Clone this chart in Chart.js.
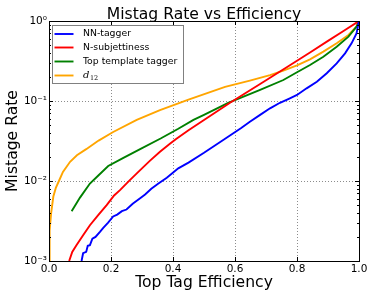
<!DOCTYPE html>
<html><head><meta charset="utf-8">
<script src="https://cdn.jsdelivr.net/npm/chart.js@4/dist/chart.umd.min.js"></script>
<style>html,body{margin:0;padding:0;background:#fff;}#wrap{width:374px;height:298px;}</style>
</head><body><div id="wrap"><canvas id="c" width="374" height="298"></canvas></div>
<script>
const chartTitle = 'Mistag Rate vs Efficiency';
const xTitle = 'Top Tag Efficiency';
const yTitle = 'Mistage Rate';
const xTickValues = [0, 0.2, 0.4, 0.6, 0.8, 1.0];
const yTickValues = [0.001, 0.01, 0.1, 1];
const yTickLabels = ['10\u207B\u00B3', '10\u207B\u00B2', '10\u207B\u00B9', '10\u2070'];
const seriesNames = ['NN-tagger', 'N-subjettiness', 'Top template tagger', 'd12'];
const seriesColors = ['#0000ff', '#ff0000', '#008000', '#ffa500'];

const nnEff    = [0.105, 0.11, 0.12, 0.125, 0.132, 0.14, 0.15, 0.165, 0.175, 0.19, 0.207, 0.22, 0.235, 0.25, 0.27, 0.294, 0.31, 0.33, 0.353, 0.38, 0.417, 0.45, 0.5, 0.562, 0.62, 0.648, 0.681, 0.713, 0.745, 0.777, 0.8, 0.831, 0.864, 0.896, 0.928, 0.955, 0.976, 0.992, 1.0];
const nnMistag = [0.001, 0.00125, 0.0013, 0.00155, 0.00158, 0.0019, 0.002, 0.00233, 0.0026, 0.003, 0.0036, 0.0038, 0.0042, 0.0044, 0.0052, 0.0061, 0.0068, 0.0080, 0.0093, 0.011, 0.0144, 0.017, 0.0225, 0.0326, 0.046, 0.055, 0.067, 0.081, 0.095, 0.108, 0.119, 0.144, 0.174, 0.222, 0.296, 0.394, 0.526, 0.70, 1.0];

const nsubEff    = [0.065, 0.075, 0.089, 0.11, 0.132, 0.16, 0.186, 0.21, 0.229, 0.26, 0.294, 0.326, 0.358, 0.39, 0.41, 0.45, 0.5, 0.584, 0.681, 0.772, 0.842, 0.9, 0.95, 1.0];
const nsubMistag = [0.001, 0.0013, 0.00158, 0.0021, 0.0028, 0.0038, 0.005, 0.0066, 0.0077, 0.0102, 0.0137, 0.018, 0.0232, 0.0292, 0.0335, 0.0432, 0.058, 0.095, 0.163, 0.272, 0.404, 0.564, 0.75, 1.0];

const topEff    = [0.073, 0.1, 0.132, 0.16, 0.191, 0.24, 0.294, 0.36, 0.417, 0.466, 0.5, 0.578, 0.681, 0.756, 0.8, 0.842, 0.885, 0.928, 0.966, 0.992, 1.0];
const topMistag = [0.0042, 0.0062, 0.0093, 0.0118, 0.0154, 0.0195, 0.025, 0.034, 0.045, 0.058, 0.067, 0.095, 0.138, 0.183, 0.229, 0.282, 0.358, 0.478, 0.637, 0.85, 1.0];

const d12Eff    = [0.0, 0.001, 0.003, 0.007, 0.014, 0.022, 0.032, 0.045, 0.068, 0.09, 0.12, 0.16, 0.207, 0.283, 0.358, 0.45, 0.568, 0.648, 0.713, 0.756, 0.8, 0.842, 0.885, 0.928, 0.966, 0.992, 1.0];
const d12Mistag = [0.001, 0.0015, 0.0024, 0.0040, 0.0064, 0.0082, 0.010, 0.013, 0.0174, 0.021, 0.025, 0.032, 0.041, 0.058, 0.077, 0.104, 0.150, 0.180, 0.211, 0.240, 0.278, 0.332, 0.414, 0.526, 0.668, 0.85, 1.0];

const effs = [nnEff, nsubEff, topEff, d12Eff];
const mistags = [nnMistag, nsubMistag, topMistag, d12Mistag];

const FONT = 'DejaVu Sans';

const datasets = seriesNames.map((name, i) => ({
  label: name,
  data: effs[i].map((x, j) => ({x: x, y: mistags[i][j]})),
  borderColor: seriesColors[i],
  backgroundColor: seriesColors[i],
  borderWidth: 1.9,
  pointRadius: 0,
  fill: false,
  tension: 0
}));

const decor = {
  id: 'decor',
  afterDraw(chart) {
    const ctx = chart.ctx;
    const a = chart.chartArea;
    const xs = chart.scales.x, ys = chart.scales.y;
    ctx.save();
    ctx.strokeStyle = '#000';
    ctx.lineWidth = 1;
    ctx.strokeRect(Math.round(a.left) + 0.5, Math.round(a.top) + 0.5, Math.round(a.right - a.left), Math.round(a.bottom - a.top));
    ctx.beginPath();
    xTickValues.forEach(v => {
      const px = Math.round(xs.getPixelForValue(v)) + 0.5;
      ctx.moveTo(px, a.bottom); ctx.lineTo(px, a.bottom - 4);
      ctx.moveTo(px, a.top); ctx.lineTo(px, a.top + 4);
    });
    yTickValues.forEach(v => {
      const py = Math.round(ys.getPixelForValue(v)) + 0.5;
      ctx.moveTo(a.left, py); ctx.lineTo(a.left + 4, py);
      ctx.moveTo(a.right, py); ctx.lineTo(a.right - 4, py);
    });
    for (let d = -3; d < 0; d++) {
      for (let k = 2; k <= 9; k++) {
        const py = Math.round(ys.getPixelForValue(k * Math.pow(10, d))) + 0.5;
        ctx.moveTo(a.left, py); ctx.lineTo(a.left + 2, py);
        ctx.moveTo(a.right, py); ctx.lineTo(a.right - 2, py);
      }
    }
    ctx.stroke();
    ctx.fillStyle = '#000';
    ctx.font = '15.6px "' + FONT + '"';
    ctx.textAlign = 'center';
    ctx.textBaseline = 'alphabetic';
    ctx.fillText(chartTitle, (a.left + a.right) / 2, 19);
    const lx = 52.5, ly = 25.5, lw = 131, lh = 58;
    ctx.fillStyle = '#fff';
    ctx.fillRect(lx, ly, lw, lh);
    ctx.strokeStyle = '#808080';
    ctx.strokeRect(lx, ly, lw, lh);
    const rowY = [34, 47.5, 61.5, 75.5];
    seriesNames.forEach((name, i) => {
      ctx.strokeStyle = seriesColors[i];
      ctx.lineWidth = 1.9;
      ctx.beginPath();
      ctx.moveTo(54.5, rowY[i]); ctx.lineTo(73.5, rowY[i]);
      ctx.stroke();
      ctx.fillStyle = '#000';
      ctx.textAlign = 'left';
      ctx.textBaseline = 'middle';
      if (name === 'd12') {
        ctx.font = 'italic 10px "DejaVu Serif"';
        ctx.fillText('d', 83, rowY[i] - 0.5);
        const w = ctx.measureText('d').width;
        ctx.font = '6.5px "DejaVu Serif"';
        ctx.fillText('12', 83 + w + 0.5, rowY[i] + 2.5);
      } else {
        ctx.font = '9.3px "' + FONT + '"';
        ctx.fillText(name, 83, rowY[i]);
      }
    });
    ctx.restore();
  }
};

new Chart(document.getElementById('c'), {
  type: 'line',
  data: { datasets: datasets },
  options: {
    responsive: false,
    animation: false,
    devicePixelRatio: 1,
    layout: { padding: { top: 21, right: 15, left: 0, bottom: 0 } },
    plugins: { legend: { display: false }, title: { display: false }, tooltip: { enabled: false } },
    scales: {
      x: {
        type: 'linear', min: 0, max: 1,
        afterBuildTicks: s => { s.ticks = xTickValues.map(v => ({value: v})); },
        ticks: { callback: v => v.toFixed(1), font: { family: FONT, size: 10.5 }, color: '#000', padding: 2, maxRotation: 0, autoSkip: false },
        grid: { color: 'rgba(0,0,0,0.45)', lineWidth: 1, drawTicks: false },
        border: { display: false, dash: [1, 2] },
        title: { display: true, text: xTitle, font: { family: FONT, size: 15.6 }, color: '#000', padding: { top: 0, bottom: 6 } },
        afterFit: s => { s.height = 37; s.paddingLeft = 0; s.paddingRight = 0; }
      },
      y: {
        type: 'logarithmic', min: 0.001, max: 1,
        afterBuildTicks: s => { s.ticks = yTickValues.map(v => ({value: v})); },
        ticks: { callback: v => yTickLabels[yTickValues.indexOf(v)] || '', font: { family: FONT, size: 10.5 }, color: '#000', padding: 2, autoSkip: false },
        grid: { color: 'rgba(0,0,0,0.45)', lineWidth: 1, drawTicks: false },
        border: { display: false, dash: [1, 2] },
        title: { display: true, text: yTitle, font: { family: FONT, size: 15.6 }, color: '#000', padding: { top: 3.5, bottom: 0 } },
        afterFit: s => { s.width = 49; s.paddingTop = 0; s.paddingBottom = 0; }
      }
    }
  },
  plugins: [decor]
});
</script>
</body></html>
